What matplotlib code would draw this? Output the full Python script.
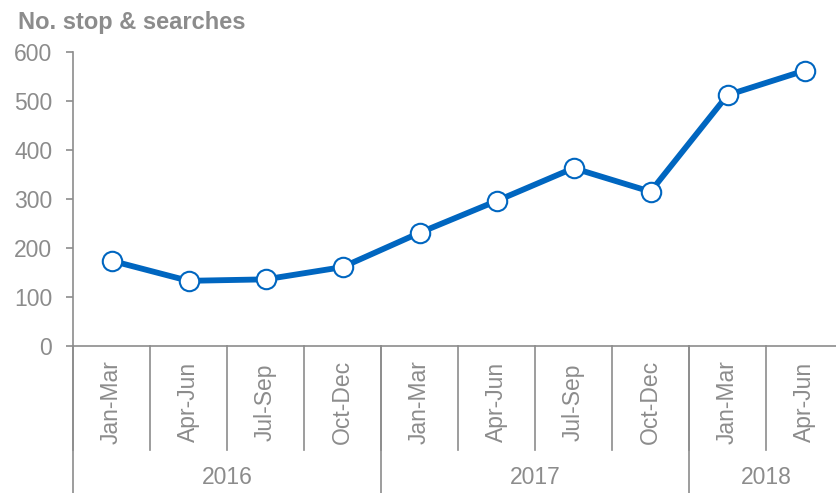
import matplotlib.pyplot as plt
import matplotlib.transforms as mtransforms

plt.rcParams['font.family'] = ['Liberation Sans', 'DejaVu Sans']

quarters = ["Jan-Mar", "Apr-Jun", "Jul-Sep", "Oct-Dec",
            "Jan-Mar", "Apr-Jun", "Jul-Sep", "Oct-Dec",
            "Jan-Mar", "Apr-Jun"]
years = ["2016", "2017", "2018"]
quarters_per_year = [4, 4, 2]
counts = [174, 133, 136, 161, 231, 296, 363, 315, 512, 562]

grey = "#8c8c8c"
blue = "#0066c0"
fs = 16.5

fig = plt.figure(figsize=(8.36, 4.93), dpi=100)
ax = fig.add_axes([73/836, 147/493, 770/836, 294/493])

x = list(range(len(counts)))
ax.plot(x, counts, color=blue, lw=4.2, marker="o", ms=14,
        mfc="white", mec=blue, mew=1.5, zorder=3, clip_on=False)

ax.set_xlim(-0.5, len(counts) - 0.5)
ax.set_ylim(0, 600)
ax.set_yticks(range(0, 601, 100))
ax.tick_params(axis="y", colors=grey, labelsize=fs, length=5, width=1.2,
               labelcolor=grey, pad=10)
ax.set_xticks([])
for s in ["top", "right"]:
    ax.spines[s].set_visible(False)
for s in ["left", "bottom"]:
    ax.spines[s].set_color(grey)
    ax.spines[s].set_linewidth(1.2)

trans = mtransforms.blended_transform_factory(ax.transData, ax.transAxes)
cat_depth = -(450 - 346) / 294
year_depth = -(493 - 346) / 294

# quarter labels and separators
for i, q in enumerate(quarters):
    ax.text(i, -(402 - 346) / 294, q, rotation=90, ha="center", va="center",
            color=grey, fontsize=fs, transform=trans)
for i in range(len(quarters) + 1):
    ax.plot([i - 0.5, i - 0.5], [0, cat_depth], color=grey, lw=1.2,
            transform=trans, clip_on=False)

# year labels and separators
start = 0
for y, n in zip(years, quarters_per_year):
    ax.text(start + n / 2 - 0.5, -(478 - 346) / 294, y, ha="center",
            va="center", color=grey, fontsize=fs, transform=trans)
    ax.plot([start - 0.5, start - 0.5], [0, year_depth], color=grey, lw=1.2,
            transform=trans, clip_on=False)
    start += n
ax.plot([start - 0.5, start - 0.5], [0, year_depth], color=grey, lw=1.2,
        transform=trans, clip_on=False)

fig.text(18/836, 1 - 22/493, "No. stop & searches", fontsize=17,
         fontweight="bold", color=grey, ha="left", va="center")

fig.savefig("out.png", dpi=100)
